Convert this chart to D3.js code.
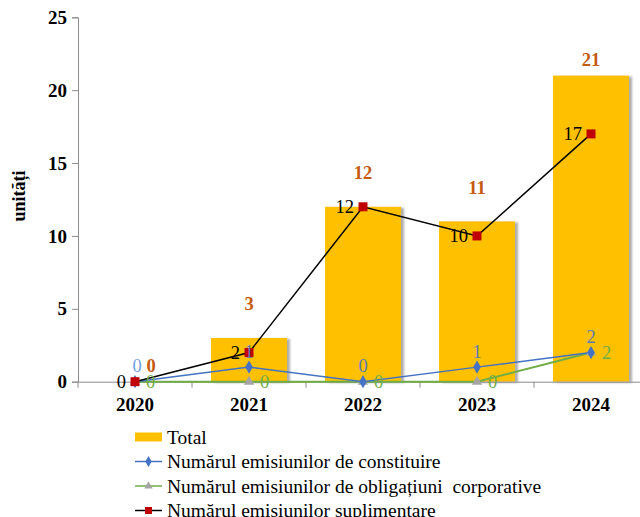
<!DOCTYPE html>
<html><head><meta charset="utf-8">
<script src="https://cdn.jsdelivr.net/npm/d3@7"></script>
<style>body{margin:0;background:#fff}svg{display:block}</style>
</head><body><svg id="c" width="640" height="517" font-family="Liberation Serif, Times New Roman, Times, serif"></svg>
<script>
const years = ["2020","2021","2022","2023","2024"];
const total = [0,3,12,11,21];
const constituire = [0,1,0,1,2];
const obligatiuni = [0,0,0,0,2];
const suplimentare = [0,2,12,10,17];
const yTicks = [0,5,10,15,20,25];
const seriesNames = ["Total","Numărul emisiunilor de constituire","Numărul emisiunilor de obligațiuni  corporative","Numărul emisiunilor suplimentare"];

const FONT = "Liberation Serif, Times New Roman, Times, serif";
const svg = d3.select("#c");
const x = d3.scaleBand().domain(years).range([78,648]).paddingInner(0.333).paddingOuter(0.1665);
const xc = d => x(d) + x.bandwidth()/2;
const y = d3.scaleLinear().domain([0,25]).range([381.7,17.3]);

const defs = svg.append("defs");
const f = defs.append("filter").attr("id","sh").attr("x","-10%").attr("y","-10%").attr("width","130%").attr("height","120%");
f.append("feDropShadow").attr("dx",3).attr("dy",1).attr("stdDeviation",1.2).attr("flood-color","#777").attr("flood-opacity",0.6);

// bars
svg.append("g").selectAll("rect").data(years).join("rect")
  .attr("x", d=>x(d)).attr("width", x.bandwidth())
  .attr("y", (d,i)=>y(total[i])).attr("height",(d,i)=>y(0)-y(total[i]))
  .attr("fill","#FFC000").attr("filter","url(#sh)");

// axes
const yAxis = svg.append("g").attr("transform","translate(78,0)")
  .call(d3.axisLeft(y).tickValues(yTicks).tickSize(6).tickPadding(5));
yAxis.attr("font-family",FONT);
yAxis.select(".domain").attr("stroke","#8c8c8c");
yAxis.selectAll(".tick line").attr("stroke","#8c8c8c");
yAxis.selectAll(".tick text").attr("font-size",19).attr("font-weight","bold").attr("fill","#000").attr("font-family",FONT);

const xAxis = svg.append("g").attr("transform",`translate(0,${y(0)})`)
  .call(d3.axisBottom(x).tickSize(0).tickPadding(16));
xAxis.attr("font-family",FONT);
xAxis.select(".domain").attr("stroke","#8c8c8c");
xAxis.selectAll(".tick text").attr("font-size",19).attr("font-weight","bold").attr("fill","#000").attr("font-family",FONT);
// boundary tick marks
svg.append("g").selectAll("line").data(years).join("line")
  .attr("x1",d=>x(d)-x.step()*0.1665).attr("x2",d=>x(d)-x.step()*0.1665)
  .attr("y1",y(0)).attr("y2",y(0)+6).attr("stroke","#8c8c8c");

svg.append("text").attr("transform","translate(19,196) rotate(-90)").attr("font-family",FONT)
  .attr("text-anchor","middle").attr("dy","0.35em").attr("font-size",18).attr("font-weight","bold").text("unități");

const line = vals => d3.line().x((d,i)=>xc(years[i])).y(d=>y(d))(vals);

// lines
svg.append("path").attr("d",line(obligatiuni)).attr("fill","none").attr("stroke","#70AD47").attr("stroke-width",2);
svg.append("path").attr("d",line(constituire)).attr("fill","none").attr("stroke","#4472C4").attr("stroke-width",1.5);
svg.append("path").attr("d",line(suplimentare)).attr("fill","none").attr("stroke","#000").attr("stroke-width",1.5);

// markers
const tri = d3.symbol().type(d3.symbolTriangle).size(45);
svg.append("g").selectAll("path").data(obligatiuni).join("path")
  .attr("d",tri).attr("transform",(d,i)=>`translate(${xc(years[i])},${y(d)})`).attr("fill","#A5A5A5");
const dia = d3.symbol().type(d3.symbolDiamond).size(50);
svg.append("g").selectAll("path").data(constituire).join("path")
  .attr("d",dia).attr("transform",(d,i)=>`translate(${xc(years[i])},${y(d)})`).attr("fill","#4472C4");
svg.append("g").selectAll("rect").data(suplimentare).join("rect")
  .attr("x",(d,i)=>xc(years[i])-4.5).attr("y",d=>y(d)-4.5).attr("width",9).attr("height",9).attr("fill","#C00000");

// labels
const lab = svg.append("g").attr("font-size",18.5).attr("font-family",FONT);
lab.selectAll("text.g").data(obligatiuni).join("text").attr("class","g")
  .attr("x",(d,i)=>xc(years[i])+11).attr("y",d=>y(d)).attr("dy","0.35em")
  .attr("fill","#70AD47").text(d=>d);
lab.selectAll("text.b").data(constituire).join("text").attr("class","b")
  .attr("x",(d,i)=>xc(years[i]) + (total[i]===0 ? 2 : 0)).attr("y",d=>y(d)-16).attr("dy","0.35em")
  .attr("text-anchor","middle").attr("fill",(d,i)=>i===0?"#6f9fdf":"#5b7bb3").text(d=>d);
lab.selectAll("text.s").data(suplimentare).join("text").attr("class","s")
  .attr("x",(d,i)=>xc(years[i])-9).attr("y",d=>y(d)).attr("dy","0.35em")
  .attr("text-anchor","end").attr("fill","#000").text(d=>d);
lab.selectAll("text.t").data(total).join("text").attr("class","t")
  .attr("x",(d,i)=>xc(years[i]) + (d===0 ? 16 : 0))
  .attr("y",(d,i)=>y(d) - (Math.abs(d-suplimentare[i])<1.5 && d>0 ? 34 : 16)).attr("dy","0.35em")
  .attr("text-anchor","middle").attr("font-weight","bold").attr("fill","#C55A11").text(d=>d);

// legend
const lg = svg.append("g").attr("transform","translate(135,437)").attr("font-family",FONT);
const rowH = 24.5;
const items = lg.selectAll("g").data(seriesNames).join("g").attr("transform",(d,i)=>`translate(0,${i*rowH})`);
items.append("text").attr("x",32).attr("dy","0.35em").attr("font-size",19.5).style("white-space","pre").text(d=>d);
lg.append("rect").attr("x",0).attr("y",-4.5).attr("width",27).attr("height",9).attr("fill","#FFC000");
const lcol = ["#4472C4","#70AD47","#000"];
[1,2,3].forEach((k,j)=>{
  const g = lg.append("g").attr("transform",`translate(0,${k*rowH})`);
  g.append("line").attr("x1",0).attr("x2",27).attr("stroke",lcol[j]).attr("stroke-width",1.5);
  if(k===1) g.append("path").attr("d",d3.symbol().type(d3.symbolDiamond).size(35)).attr("transform","translate(13.5,0)").attr("fill","#4472C4");
  if(k===2) g.append("path").attr("d",d3.symbol().type(d3.symbolTriangle).size(30)).attr("transform","translate(13.5,0)").attr("fill","#A5A5A5");
  if(k===3) g.append("rect").attr("x",10).attr("y",-3.5).attr("width",7).attr("height",7).attr("fill","#C00000");
});
</script></body></html>
